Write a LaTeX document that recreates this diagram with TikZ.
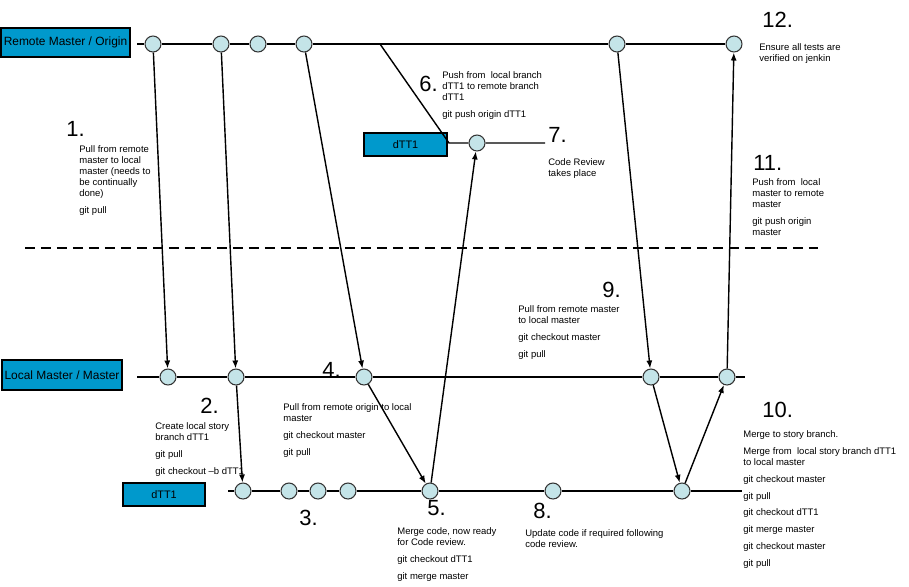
\documentclass[tikz,border=0pt]{standalone}
\usepackage{fontspec}
\setmainfont{Liberation Sans}
\usetikzlibrary{arrows.meta}
\definecolor{boxblue}{HTML}{0099CC}
\definecolor{commitfill}{HTML}{C4E4E8}

\begin{document}
\begin{tikzpicture}[x=0.02cm, y=-0.02cm,
  commit/.style={circle, draw=black!80, fill=commitfill, minimum size=0.32cm, inner sep=0pt, line width=0.6pt},
  branchbox/.style={draw=black, fill=boxblue, inner sep=0pt, line width=0.6pt},
  timeline/.style={line width=1.1pt},
  flow/.style={-{Latex[length=1.6mm,width=1.2mm]}, line width=0.8pt},
  divider/.style={line width=1.6pt, dash pattern=on 0.2cm off 0.12cm},
  stepnum/.style={anchor=base west, inner sep=0pt, font=\fontsize{12.5}{14}\selectfont},
  note/.style={anchor=north west, align=left, inner sep=0pt, font=\fontsize{5.4}{6.24}\selectfont}]
  \useasboundingbox (0,0) rectangle (909,586);

  \node[branchbox, minimum width=2.58cm, minimum height=0.58cm, font=\fontsize{6.8}{8}\selectfont] (remotebox) at (65.5,42.5) {Remote Master / Origin};
  \node[branchbox, minimum width=2.4cm, minimum height=0.6cm, font=\fontsize{6.8}{8}\selectfont] (localbox) at (62,375) {Local Master / Master};
  \node[branchbox, minimum width=1.64cm, minimum height=0.46cm, font=\fontsize{6.2}{8}\selectfont] (storybox) at (164,494.5) {dTT1};
  \node[branchbox, minimum width=1.66cm, minimum height=0.46cm, font=\fontsize{6.2}{8}\selectfont] (pushbox) at (405.5,144.5) {dTT1};

  \node[commit] (r1) at (153,44) {};
  \node[commit] (r2) at (221,44) {};
  \node[commit] (r3) at (258,44) {};
  \node[commit] (r4) at (304,44) {};
  \node[commit] (r5) at (617,44) {};
  \node[commit] (r6) at (734,44) {};
  \node[commit] (p1) at (477,143) {};
  \node[commit] (l1) at (168,377) {};
  \node[commit] (l2) at (236,377) {};
  \node[commit] (l3) at (364,377) {};
  \node[commit] (l4) at (651,377) {};
  \node[commit] (l5) at (727,377) {};
  \node[commit] (s1) at (243,491) {};
  \node[commit] (s2) at (289,491) {};
  \node[commit] (s3) at (318,491) {};
  \node[commit] (s4) at (348,491) {};
  \node[commit] (s5) at (430,491) {};
  \node[commit] (s6) at (553,491) {};
  \node[commit] (s7) at (682,491) {};

  \coordinate (rstart) at (137,44);
  \coordinate (fork) at (380,44);
  \coordinate (pushcorner) at (449,143);
  \coordinate (pushend) at (545,143);
  \coordinate (lstart) at (137,377);
  \coordinate (lend) at (745,377);
  \coordinate (sstart) at (228,491);
  \coordinate (send) at (742,491);
  \coordinate (dleft) at (25,248);
  \coordinate (dright) at (818,248);

  \draw[timeline] (rstart) -- (r1) -- (r2) -- (r3) -- (r4) -- (r5) -- (r6);
  \draw[line width=0.8pt] (fork) -- (pushcorner) -- (p1) -- (pushend);
  \draw[timeline] (lstart) -- (l1) -- (l2) -- (l3) -- (l4) -- (l5) -- (lend);
  \draw[timeline] (sstart) -- (s1) -- (s2) -- (s3) -- (s4) -- (s5) -- (s6) -- (s7) -- (send);
  \draw[divider] (dleft) -- (dright);

  \draw[flow] (r1) -- (l1);
  \draw[flow] (r2) -- (l2);
  \draw[flow] (r4) -- (l3);
  \draw[flow] (r5) -- (l4);
  \draw[flow] (l2) -- (s1);
  \draw[flow] (l3) -- (s5);
  \draw[flow] (s5) -- (p1);
  \draw[flow] (l4) -- (s7);
  \draw[flow] (s7) -- (l5);
  \draw[flow] (l5) -- (r6);

  \node[stepnum] (n1) at (66,136) {1.};
  \node[stepnum] (n2) at (200,413) {2.};
  \node[stepnum] (n3) at (299,525) {3.};
  \node[stepnum] (n4) at (322,377) {4.};
  \node[stepnum] (n5) at (427,515) {5.};
  \node[stepnum] (n6) at (419,91) {6.};
  \node[stepnum] (n7) at (548,142) {7.};
  \node[stepnum] (n8) at (533,518) {8.};
  \node[stepnum] (n9) at (602,297) {9.};
  \node[stepnum] (n10) at (762,417) {10.};
  \node[stepnum] (n11) at (753,170) {11.};
  \node[stepnum] (n12) at (762,27) {12.};

  \node[note] (t1) at (79,145) {Pull from remote\\master to local\\master (needs to\\be continually\\done)\\[3.4pt]git pull};
  \node[note] (t2) at (155,422) {Create local story\\branch dTT1\\[3.4pt]git pull\\[3.4pt]git checkout –b dTT1};
  \node[note] (t4) at (283,403) {Pull from remote origin to local\\master\\[3.4pt]git checkout master\\[3.4pt]git pull};
  \node[note] (t5) at (397,527) {Merge code, now ready\\for Code review.\\[3.4pt]git checkout dTT1\\[3.4pt]git merge master};
  \node[note] (t6) at (442,71) {Push from\ \ local branch\\dTT1 to remote branch\\dTT1\\[3.4pt]git push origin dTT1};
  \node[note] (t7) at (548,158) {Code Review\\takes place};
  \node[note] (t8) at (525,529) {Update code if required following\\code review.};
  \node[note] (t9) at (518,305) {Pull from remote master\\to local master\\[3.4pt]git checkout master\\[3.4pt]git pull};
  \node[note] (t10) at (743,430) {Merge to story branch.\\[3.4pt]Merge from\ \ local story branch dTT1\\to local master\\[3.4pt]git checkout master\\[3.4pt]git pull\\[3.4pt]git checkout dTT1\\[3.4pt]git merge master\\[3.4pt]git checkout master\\[3.4pt]git pull};
  \node[note] (t11) at (752,178) {Push from\ \ local\\master to remote\\master\\[3.4pt]git push origin\\master};
  \node[note] (t12) at (759,43) {Ensure all tests are\\verified on jenkin};
\end{tikzpicture}
\end{document}
